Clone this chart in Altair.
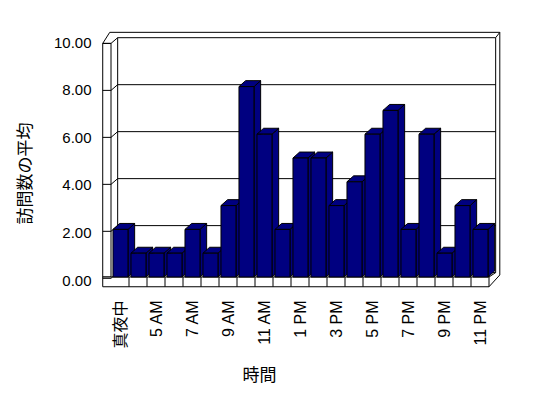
import altair as alt
import pandas as pd

categories = ['真夜中', '4 AM', '5 AM', '6 AM', '7 AM', '8 AM', '9 AM', '10 AM', '11 AM', '正午',
              '1 PM', '2 PM', '3 PM', '4 PM', '5 PM', '6 PM', '7 PM', '8 PM', '9 PM', '10 PM', '11 PM']
values = [2, 1, 1, 1, 2, 1, 3, 8, 6, 2, 5, 5, 3, 4, 6, 7, 2, 6, 1, 3, 2]
y_ticks = [0, 2, 4, 6, 8, 10]
x_title = '時間'
y_title = '訪問数の平均'

N = len(categories)
YMAX = 10
NAVY = '#000080'
LATIN = 'Liberation Sans, Noto Sans CJK JP'
CJK = 'Noto Sans CJK JP'

# pseudo-3D geometry (data units)
DX, DY = 0.37, 0.25          # bar depth
B0, B1 = 0.11, 0.944         # bar front face inside each category slot
WX = 0.37                    # wall depth
K = 0.987                    # wall scale factor (perspective)
WF, WB = -0.055, 0.185       # left wall front / back wall offsets
FL = -0.41                   # floor front bottom
LW = -0.46                   # left wall front left edge
OX, OY = 0.23, 0.225         # wall slab thickness

front, side, top = [], [], []
for i, (c, v) in enumerate(zip(categories, values)):
    x0, x1 = i + B0, i + B1
    front.append({'x': x0, 'x2': x1, 'y': 0, 'y2': v, 'id': i})
    side += [{'x': x1, 'y': 0, 'y2': v, 'id': i},
             {'x': x1 + DX, 'y': DY, 'y2': v + DY, 'id': i}]
    top += [{'x': x0, 'y': v, 'y2': v, 'id': i},
            {'x': x0 + DX, 'y': v, 'y2': v + DY, 'id': i},
            {'x': x1, 'y': v, 'y2': v + DY, 'id': i},
            {'x': x1 + DX, 'y': v + DY, 'y2': v + DY, 'id': i}]

wtop_f = WF + K * YMAX
wtop_b = WB + K * YMAX
faces = [
    {'x': WX, 'x2': N + WX, 'y': WB, 'y2': wtop_b},      # back wall
    {'x': LW, 'x2': 0, 'y': 0, 'y2': wtop_f},            # left wall front
    {'x': LW, 'x2': N, 'y': FL, 'y2': 0},                # floor front
]
lines = []
for t in y_ticks:
    wf, wb = WF + K * t, WB + K * t
    lines.append({'x': LW, 'y': wf, 'x2': 0, 'y2': wf})
    lines.append({'x': 0, 'y': wf, 'x2': WX, 'y2': wb})
    if 0 < t < YMAX:
        lines.append({'x': WX, 'y': wb, 'x2': N + WX, 'y2': wb})
for i in range(1, N):
    lines.append({'x': i, 'y': FL, 'x2': i, 'y2': 0})
lines += [
    {'x': LW, 'y': wtop_f, 'x2': LW + 0.39, 'y2': wtop_b + OY},
    {'x': LW + 0.39, 'y': wtop_b + OY, 'x2': N + WX + OX, 'y2': wtop_b + OY},
    {'x': N + WX, 'y': wtop_b, 'x2': N + WX + OX, 'y2': wtop_b + OY},
    {'x': N + WX + OX, 'y': wtop_b + OY, 'x2': N + WX + OX, 'y2': WB - 0.1},
    {'x': N, 'y': FL, 'x2': N + WX + OX, 'y2': WB - 0.1},
    {'x': N, 'y': 0, 'x2': N + WX, 'y2': WB},
]

xs = alt.Scale(domain=[0, N], nice=False, zero=False)
ys = alt.Scale(domain=[0, YMAX], nice=False, zero=False)

label_expr = '[' + ','.join("'%s'" % c for c in categories) + '][floor(datum.value)]'
xaxis = alt.Axis(values=[i + 0.5 for i in range(0, N, 2)], labelExpr=label_expr,
                 labelAngle=270, labelFont=LATIN, labelFontSize=16, labelColor='black',
                 labelPadding=23, labelOverlap=False, domain=False, ticks=False, grid=False,
                 title=x_title, titleFont=CJK, titleFontSize=17, titleFontWeight='normal',
                 titleColor='black', titleX=148, titleY=98, titleBaseline='middle')
yaxis = alt.Axis(values=y_ticks, format='.2f', labelFont=LATIN, labelFontSize=15,
                 labelColor='black', labelPadding=20, labelOffset=3, domain=False,
                 ticks=False, grid=False, title=y_title, titleFont=CJK, titleFontSize=17,
                 titleFontWeight='normal', titleColor='black', titleAngle=270,
                 titleX=-86, titleY=134, titleBaseline='middle')

X = alt.X('x:Q', scale=xs, axis=xaxis)
Y = alt.Y('y:Q', scale=ys, axis=yaxis)

face_layer = alt.Chart(pd.DataFrame(faces)).mark_rect(
    fill='white', stroke='black', strokeWidth=1).encode(
    x=X, x2='x2:Q', y=Y, y2='y2:Q')
line_layer = alt.Chart(pd.DataFrame(lines)).mark_rule(
    color='black', strokeWidth=1).encode(
    x=X, x2='x2:Q', y=Y, y2='y2:Q')
side_layer = alt.Chart(pd.DataFrame(side)).mark_area(
    fill=NAVY, stroke='black', strokeWidth=1, fillOpacity=1, orient='vertical').encode(
    x=X, y=Y, y2='y2:Q', detail='id:N')
top_layer = alt.Chart(pd.DataFrame(top)).mark_area(
    fill=NAVY, stroke='black', strokeWidth=1, fillOpacity=1, orient='vertical').encode(
    x=X, y=Y, y2='y2:Q', detail='id:N')
front_layer = alt.Chart(pd.DataFrame(front)).mark_rect(
    fill=NAVY, stroke='black', strokeWidth=1).encode(
    x=X, x2='x2:Q', y=Y, y2='y2:Q')

chart = alt.layer(face_layer, line_layer, side_layer, top_layer, front_layer).properties(
    width=378, height=238,
    autosize=alt.AutoSizeParams(type='none'),
    padding={'left': 103, 'top': 31, 'right': 40, 'bottom': 112},
    background='white',
).configure_view(stroke=None)

chart.save('out.html', embed_options={'renderer': 'svg', 'actions': False})
